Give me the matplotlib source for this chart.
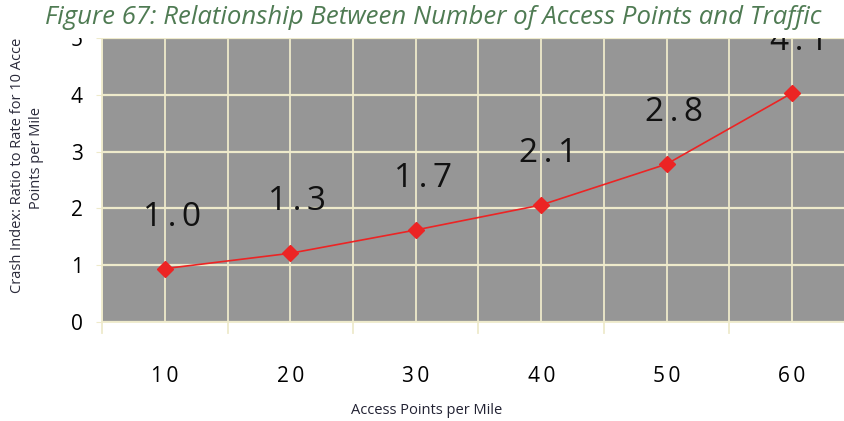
import matplotlib
matplotlib.use('Agg')
import matplotlib.pyplot as plt
from matplotlib.patches import Rectangle

# data
access_points = [10, 20, 30, 40, 50, 60]
crash_index   = [0.94, 1.21, 1.62, 2.06, 2.78, 4.03]   # plotted marker heights
value_labels  = ['1.0', '1.3', '1.7', '2.1', '2.8', '4.1']
x_ticklabels  = ['10', '20', '30', '40', '50', '60']
y_ticks       = [0, 1, 2, 3, 4, 5]

W, H = 845, 421
grey  = '#969696'
pale  = '#eeeacb'
red   = '#ec2424'
thin  = '\u2009'
fonts = ['Open Sans', 'DejaVu Sans']

fig = plt.figure(figsize=(W/100, H/100), dpi=100)

# axes in pixel terms: x=5 at 102px, 12.54 px per unit; y=0 at 322px, 56.8 px per unit
x0, xpu = 102.3, 12.54
y0, ypu = 322.0, 56.8
xmin, xmax = 5, 65
ymin, ymax = 0, 5.6
ax = fig.add_axes([x0/W, 1 - y0/H, (xmax-xmin)*xpu/W, (ymax-ymin)*ypu/H])
ax.set_facecolor(grey)
ax.set_xlim(xmin, xmax)
ax.set_ylim(ymin, ymax)

# grid every 5 along x, every 1 along y
for xg in range(5, 66, 5):
    ax.axvline(xg, color=pale, lw=1.3, zorder=1)
ax.set_yticks(y_ticks)
ax.grid(True, axis='y', color=pale, lw=1.6, zorder=1)

# category boundary ticks (5, 15, ...) below the axis, labels at 10, 20, ...
ax.set_xticks(access_points)
ax.set_xticklabels([thin.join(t) for t in x_ticklabels], fontsize=15, family=fonts)
ax.tick_params(axis='x', length=0, pad=32)
for xb in range(5, 60, 10):
    ax.plot([xb, xb], [0, -0.2], color=pale, lw=1.3, clip_on=False)

ax.set_yticklabels([str(v) for v in y_ticks], fontsize=15, family=fonts)
ax.tick_params(axis='y', length=4, color=pale, pad=10)

for s in ['top', 'right']:
    ax.spines[s].set_visible(False)
for s in ['left', 'bottom']:
    ax.spines[s].set_color(pale)
    ax.spines[s].set_linewidth(1.3)

ax.plot(access_points, crash_index, color=red, lw=1.2, marker='D',
        markersize=8, markerfacecolor=red, markeredgecolor=red, zorder=3)

for xv, yv, lab in zip(access_points, crash_index, value_labels):
    ax.annotate(thin.join(lab), (xv, yv), xytext=(5, 37), textcoords='offset points',
                ha='center', va='center', fontsize=24, color='#111111',
                family=fonts, annotation_clip=False)

ax.set_xlabel('Access Points per Mile', fontsize=10.5, color='#222233', family=fonts)
ax.xaxis.set_label_coords((427 - x0)/((xmax-xmin)*xpu), -(410 - y0)/((ymax-ymin)*ypu))
ax.xaxis.label.set_va('center')

fig.text(27/W, 1 - 158/H, 'Crash Index: Ratio to Rate for 10 Access\nPoints per Mile',
         rotation=90, ha='center', va='center', fontsize=10.5, color='#2a2a3a',
         family=fonts, linespacing=1.3)

# white band on top where the screenshot was cropped, with the caption over it
band = Rectangle((0, 1 - 38/H), 1, 38/H, transform=fig.transFigure,
                 facecolor='white', edgecolor='none', zorder=5)
fig.patches.append(band)
fig.text(433/W, 1 - 17/H,
         'Figure 67: Relationship Between Number of Access Points and Traffic',
         ha='center', va='center', fontsize=18.5, style='italic', color='#4f7b53',
         family=fonts, zorder=6)

fig.savefig('out.png', dpi=100)
